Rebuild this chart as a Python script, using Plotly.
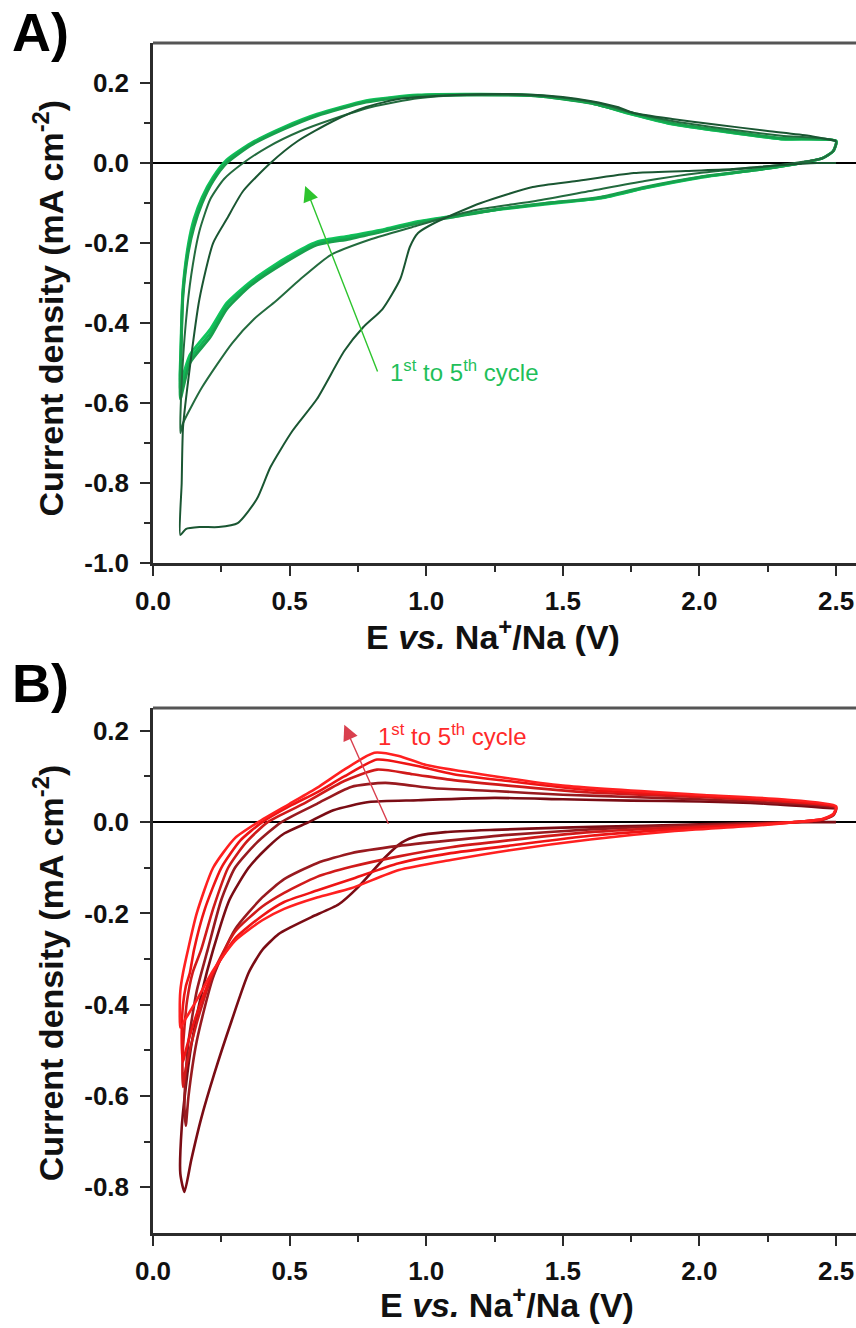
import plotly.graph_objects as go

FONT = "Liberation Sans, Arial, sans-serif"

# ---------------- Panel A (green) data ----------------
A1_E = [2.50, 2.43, 2.30, 2.12, 1.95, 1.76, 1.55, 1.39, 1.20, 1.03, 0.97, 0.94, 0.905, 0.84, 0.77, 0.70, 0.60, 0.51, 0.43, 0.38, 0.31, 0.24, 0.17, 0.12, 0.10,
        0.105, 0.11, 0.135, 0.17, 0.22, 0.27, 0.33, 0.43, 0.53, 0.66, 0.78, 0.90, 1.05, 1.20, 1.35, 1.50, 1.60, 1.70, 1.76, 1.90, 2.05, 2.25, 2.40, 2.50]
A1_I = [0.00, 0.00, -0.005, -0.015, -0.02, -0.025, -0.045, -0.06, -0.10, -0.15, -0.175, -0.21, -0.29, -0.365, -0.41, -0.47, -0.59, -0.67, -0.76, -0.84, -0.90, -0.91, -0.91, -0.915, -0.93,
        -0.80, -0.66, -0.51, -0.34, -0.20, -0.14, -0.07, 0.0, 0.055, 0.105, 0.14, 0.16, 0.168, 0.172, 0.172, 0.165, 0.155, 0.14, 0.125, 0.11, 0.097, 0.08, 0.068, 0.055]

A2_E = [2.50, 2.49, 2.45, 2.35, 2.20, 2.00, 1.80, 1.60, 1.40, 1.20, 1.05, 0.95, 0.80, 0.65, 0.54, 0.45, 0.37, 0.29, 0.18, 0.11, 0.10,
        0.105, 0.12, 0.14, 0.17, 0.21, 0.26, 0.33, 0.42, 0.54, 0.66, 0.80, 0.97, 1.15, 1.35, 1.50, 1.64, 1.76, 1.90, 2.10, 2.30, 2.50]
A2_I = [0.055, 0.03, 0.012, 0.0, -0.012, -0.025, -0.045, -0.07, -0.095, -0.115, -0.14, -0.16, -0.19, -0.23, -0.29, -0.345, -0.39, -0.45, -0.56, -0.65, -0.675,
        -0.55, -0.40, -0.28, -0.17, -0.09, -0.04, 0.0, 0.04, 0.08, 0.11, 0.14, 0.162, 0.17, 0.17, 0.163, 0.148, 0.125, 0.105, 0.085, 0.068, 0.055]

A345_E = [2.50, 2.49, 2.45, 2.37, 2.20, 2.00, 1.80, 1.64, 1.45, 1.27, 1.10, 0.97, 0.85, 0.72, 0.60, 0.48, 0.36, 0.27, 0.21, 0.135, 0.10,
          0.102, 0.105, 0.11, 0.13, 0.15, 0.18, 0.22, 0.27, 0.36, 0.48, 0.60, 0.78, 0.97, 1.20, 1.40, 1.60, 1.75, 1.90, 2.10, 2.30, 2.50]
A3_I = [0.055, 0.03, 0.012, 0.0, -0.018, -0.035, -0.06, -0.085, -0.10, -0.115, -0.135, -0.15, -0.17, -0.19, -0.205, -0.25, -0.305, -0.365, -0.435, -0.50, -0.59,
        -0.50, -0.42, -0.33, -0.22, -0.16, -0.10, -0.045, 0.0, 0.045, 0.085, 0.118, 0.152, 0.168, 0.17, 0.168, 0.15, 0.125, 0.10, 0.08, 0.062, 0.055]
A4_I = [0.055, 0.03, 0.012, 0.0, -0.018, -0.036, -0.062, -0.087, -0.10, -0.115, -0.133, -0.148, -0.167, -0.185, -0.20, -0.245, -0.30, -0.355, -0.425, -0.49, -0.57,
        -0.48, -0.40, -0.32, -0.21, -0.15, -0.09, -0.04, 0.005, 0.048, 0.088, 0.12, 0.154, 0.169, 0.171, 0.168, 0.15, 0.123, 0.098, 0.078, 0.06, 0.055]
A5_I = [0.055, 0.03, 0.012, 0.0, -0.018, -0.037, -0.063, -0.088, -0.102, -0.116, -0.132, -0.146, -0.165, -0.182, -0.197, -0.24, -0.295, -0.35, -0.415, -0.48, -0.55,
        -0.46, -0.38, -0.31, -0.20, -0.14, -0.085, -0.035, 0.008, 0.05, 0.09, 0.122, 0.156, 0.17, 0.172, 0.169, 0.151, 0.122, 0.097, 0.077, 0.06, 0.055]

A_COLORS = ["#1a5632", "#236b3e", "#17a04c", "#12b656", "#10c65c"]

# ---------------- Panel B (red) data ----------------
B1_E = [2.50, 2.40, 2.20, 2.00, 1.80, 1.50, 1.25, 1.07, 0.97, 0.91, 0.85, 0.75, 0.68, 0.58, 0.505, 0.46, 0.40, 0.35, 0.285, 0.225, 0.176, 0.14, 0.115,
        0.10, 0.105, 0.12, 0.14, 0.18, 0.22, 0.28, 0.35, 0.42, 0.48, 0.57, 0.66, 0.79, 0.97, 1.25, 1.50, 1.75, 2.00, 2.25, 2.50]
B1_I = [0.0, 0.0, -0.002, -0.005, -0.008, -0.012, -0.017, -0.022, -0.03, -0.045, -0.077, -0.143, -0.18, -0.208, -0.23, -0.245, -0.28, -0.33, -0.44, -0.55, -0.65, -0.74, -0.81,
        -0.77, -0.67, -0.58, -0.49, -0.37, -0.28, -0.17, -0.10, -0.055, -0.025, 0.0, 0.026, 0.044, 0.048, 0.053, 0.05, 0.047, 0.045, 0.04, 0.03]

B2_E = [2.50, 2.49, 2.45, 2.35, 2.20, 1.90, 1.60, 1.30, 1.09, 0.90, 0.725, 0.60, 0.48, 0.40, 0.30, 0.22, 0.16, 0.13, 0.12,
        0.115, 0.12, 0.13, 0.16, 0.20, 0.25, 0.30, 0.38, 0.47, 0.60, 0.725, 0.85, 1.03, 1.25, 1.50, 1.75, 2.00, 2.25, 2.50]
B2_I = [0.03, 0.015, 0.005, 0.0, -0.003, -0.008, -0.016, -0.028, -0.04, -0.052, -0.068, -0.09, -0.125, -0.165, -0.235, -0.34, -0.48, -0.60, -0.665,
        -0.62, -0.55, -0.48, -0.37, -0.28, -0.17, -0.10, -0.045, 0.0, 0.04, 0.077, 0.086, 0.074, 0.068, 0.06, 0.055, 0.05, 0.043, 0.03]

B3_E = [2.50, 2.49, 2.45, 2.35, 2.20, 1.90, 1.60, 1.30, 1.09, 0.90, 0.725, 0.60, 0.48, 0.40, 0.30, 0.22, 0.16, 0.12, 0.11,
        0.108, 0.115, 0.125, 0.145, 0.176, 0.22, 0.275, 0.34, 0.42, 0.55, 0.70, 0.82, 0.95, 1.10, 1.30, 1.60, 2.00, 2.30, 2.50]
B3_I = [0.032, 0.016, 0.006, 0.0, -0.005, -0.012, -0.022, -0.04, -0.055, -0.075, -0.098, -0.12, -0.155, -0.185, -0.24, -0.33, -0.44, -0.54, -0.58,
        -0.52, -0.45, -0.39, -0.33, -0.28, -0.19, -0.10, -0.045, 0.0, 0.04, 0.09, 0.115, 0.105, 0.092, 0.08, 0.065, 0.055, 0.045, 0.032]

B4_E = [2.50, 2.49, 2.45, 2.35, 2.20, 1.90, 1.60, 1.30, 1.09, 0.90, 0.725, 0.60, 0.48, 0.40, 0.30, 0.22, 0.16, 0.12, 0.11,
        0.105, 0.11, 0.12, 0.135, 0.15, 0.19, 0.25, 0.32, 0.40, 0.50, 0.60, 0.70, 0.82, 0.95, 1.10, 1.30, 1.60, 2.00, 2.30, 2.50]
B4_I = [0.033, 0.017, 0.006, 0.0, -0.006, -0.016, -0.03, -0.052, -0.068, -0.09, -0.125, -0.15, -0.175, -0.205, -0.255, -0.33, -0.42, -0.50, -0.525,
        -0.47, -0.40, -0.36, -0.33, -0.28, -0.19, -0.10, -0.04, 0.0, 0.035, 0.065, 0.10, 0.137, 0.125, 0.105, 0.09, 0.07, 0.058, 0.047, 0.033]

B5_E = [2.50, 2.49, 2.45, 2.35, 2.20, 1.90, 1.60, 1.30, 1.09, 0.90, 0.725, 0.60, 0.48, 0.40, 0.30, 0.22, 0.16, 0.12, 0.10,
        0.098, 0.10, 0.11, 0.128, 0.16, 0.22, 0.30, 0.385, 0.50, 0.60, 0.70, 0.81, 0.90, 1.00, 1.20, 1.50, 2.00, 2.30, 2.50]
B5_I = [0.035, 0.018, 0.007, 0.0, -0.008, -0.02, -0.038, -0.062, -0.083, -0.105, -0.145, -0.165, -0.19, -0.215, -0.26, -0.325, -0.39, -0.43, -0.45,
        -0.42, -0.37, -0.33, -0.28, -0.20, -0.10, -0.035, 0.0, 0.04, 0.075, 0.115, 0.152, 0.145, 0.125, 0.105, 0.08, 0.06, 0.05, 0.035]

B_COLORS = ["#7a0c14", "#981a1f", "#d01a1a", "#ee1414", "#ff2020"]

# ---------------- axes ticks ----------------
X_TICKS = [0.0, 0.5, 1.0, 1.5, 2.0, 2.5]
X_LABELS = ["0.0", "0.5", "1.0", "1.5", "2.0", "2.5"]
X_MINOR = [0.25, 0.75, 1.25, 1.75, 2.25]
YA_TICKS = [0.2, 0.0, -0.2, -0.4, -0.6, -0.8, -1.0]
YA_LABELS = ["0.2", "0.0", "-0.2", "-0.4", "-0.6", "-0.8", "-1.0"]
YA_MINOR = [0.1, -0.1, -0.3, -0.5, -0.7, -0.9]
YB_TICKS = [0.2, 0.0, -0.2, -0.4, -0.6, -0.8]
YB_LABELS = ["0.2", "0.0", "-0.2", "-0.4", "-0.6", "-0.8"]
YB_MINOR = [0.1, -0.1, -0.3, -0.5, -0.7]

fig = go.Figure()

A_series = [(A1_E, A1_I), (A2_E, A2_I), (A345_E, A3_I), (A345_E, A4_I), (A345_E, A5_I)]
A_WIDTHS = [2.0, 2.0, 2.8, 2.8, 2.8]
for idx in [4, 3, 2, 1, 0]:
    e, i = A_series[idx]
    fig.add_trace(go.Scatter(x=e, y=i, mode="lines", xaxis="x", yaxis="y",
                             line=dict(color=A_COLORS[idx], width=A_WIDTHS[idx],
                                       shape="spline", smoothing=0.6),
                             showlegend=False, hoverinfo="skip"))

B_series = [(B1_E, B1_I), (B2_E, B2_I), (B3_E, B3_I), (B4_E, B4_I), (B5_E, B5_I)]
for idx in range(5):
    e, i = B_series[idx]
    fig.add_trace(go.Scatter(x=e, y=i, mode="lines", xaxis="x2", yaxis="y2",
                             line=dict(color=B_COLORS[idx], width=2.6,
                                       shape="spline", smoothing=0.6),
                             showlegend=False, hoverinfo="skip"))

AX = "#2b2b2b"
tickfont = dict(family=FONT, size=26, color="#111", weight="bold")


def xaxis_cfg(anchor):
    return dict(anchor=anchor, domain=[0, 1], range=[0, 2.573], showline=True, linecolor=AX,
                linewidth=2.5, ticks="outside", ticklen=10, tickwidth=2, tickcolor=AX,
                tickvals=X_TICKS, ticktext=X_LABELS, tickfont=tickfont, showgrid=False,
                zeroline=False, ticklabelstandoff=3,
                minor=dict(tickvals=X_MINOR, ticks="outside", ticklen=6, tickwidth=2, tickcolor=AX))


def yaxis_cfg(anchor, domain, rng, tv, tt, mv):
    return dict(anchor=anchor, domain=domain, range=rng, showline=True, linecolor=AX,
                linewidth=2.5, ticks="outside", ticklen=10, tickwidth=2, tickcolor=AX,
                tickvals=tv, ticktext=tt, tickfont=tickfont, showgrid=False,
                zeroline=True, zerolinecolor="#000", zerolinewidth=2.2, ticklabelstandoff=6,
                minor=dict(tickvals=mv, ticks="outside", ticklen=6, tickwidth=2, tickcolor=AX))


fig.update_layout(
    width=856, height=1328,
    margin=dict(l=153, r=0, t=43, b=95),
    paper_bgcolor="white", plot_bgcolor="white",
    font=dict(family=FONT, color="#111"),
    xaxis=xaxis_cfg("y"),
    yaxis=yaxis_cfg("x", [0.563, 1.0], [-1.0, 0.3], YA_TICKS, YA_LABELS, YA_MINOR),
    xaxis2=xaxis_cfg("y2"),
    yaxis2=yaxis_cfg("x2", [0.0, 0.4412], [-0.9, 0.25], YB_TICKS, YB_LABELS, YB_MINOR),
)

# top frame lines
fig.add_shape(type="line", xref="x domain", yref="y domain", x0=0, x1=1, y0=1, y1=1,
              line=dict(color="#555", width=3))
fig.add_shape(type="line", xref="x2 domain", yref="y2 domain", x0=0, x1=1, y0=1, y1=1,
              line=dict(color="#555", width=3))

ytitle_font = dict(family=FONT, size=34, color="#111", weight="bold")
xtitle_font = dict(family=FONT, size=34, color="#111", weight="bold")
ytitle = "Current density (mA cm<sup>-2</sup>)"
xtitle = "E <i>vs.</i> Na<sup>+</sup>/Na (V)"

# axis titles
fig.add_annotation(text=ytitle, textangle=-90, xref="paper", x=-0.149, xanchor="center",
                   yref="y domain", y=0.49, yanchor="middle", showarrow=False, font=ytitle_font)
fig.add_annotation(text=ytitle, textangle=-90, xref="paper", x=-0.149, xanchor="center",
                   yref="y2 domain", y=0.495, yanchor="middle", showarrow=False, font=ytitle_font)
fig.add_annotation(text=xtitle, xref="x", x=1.245, xanchor="center", yref="y domain", y=-0.138,
                   yanchor="middle", showarrow=False, font=xtitle_font)
fig.add_annotation(text=xtitle, xref="x2", x=1.297, xanchor="center", yref="y2 domain", y=-0.132,
                   yanchor="middle", showarrow=False, font=xtitle_font)

# panel labels
panel_font = dict(family=FONT, size=54, color="#000", weight="bold")
fig.add_annotation(text="A)", xref="paper", x=-0.2034, xanchor="left", yref="paper", y=1.036,
                   yanchor="top", showarrow=False, font=panel_font)
fig.add_annotation(text="B)", xref="paper", x=-0.2034, xanchor="left", yref="paper", y=0.489,
                   yanchor="top", showarrow=False, font=panel_font)

# arrows and cycle labels
fig.add_annotation(text="", xref="x", yref="y", x=0.557, y=-0.0575, axref="x", ayref="y",
                   ax=0.824, ay=-0.525, showarrow=True, arrowhead=2, arrowsize=2.2,
                   arrowwidth=1.4, arrowcolor="#2ec42e")
fig.add_annotation(text="1<sup>st</sup> to 5<sup>th</sup> cycle", xref="x", yref="y", x=0.86, y=-0.52,
                   xanchor="left", yanchor="middle", showarrow=False,
                   font=dict(family=FONT, size=24, color="#1fbf5a"))
fig.add_annotation(text="", xref="x2", yref="y2", x=0.70, y=0.213, axref="x2", ayref="y2",
                   ax=0.864, ay=-0.007, showarrow=True, arrowhead=2, arrowsize=2.2,
                   arrowwidth=1.4, arrowcolor="#d9404e")
fig.add_annotation(text="1<sup>st</sup> to 5<sup>th</sup> cycle", xref="x2", yref="y2", x=0.817, y=0.19,
                   xanchor="left", yanchor="middle", showarrow=False,
                   font=dict(family=FONT, size=24, color="#ff2a2a"))

fig.write_html("out.html")
